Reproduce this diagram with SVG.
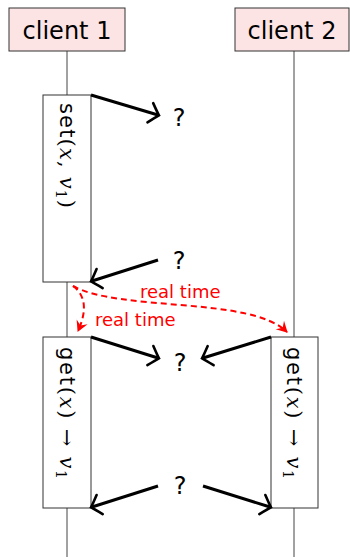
<svg xmlns="http://www.w3.org/2000/svg" width="350" height="557" viewBox="0 0 350 557">
<defs>
<marker id="to" markerUnits="userSpaceOnUse" markerWidth="30" markerHeight="30" viewBox="-15 -15 30 30" refX="0" refY="0" orient="auto">
<path d="M -8 -10 Q -2 -3 1 0 Q -2 3 -8 10" fill="none" stroke="#000" stroke-width="2.6" stroke-linecap="round"/>
</marker>
<marker id="red" markerUnits="userSpaceOnUse" markerWidth="20" markerHeight="20" viewBox="-10 -10 20 20" refX="0" refY="0" orient="auto">
<path d="M -10 -6 L 1 0 L -10 6 L -6 0 Z" fill="#f00"/>
</marker>
</defs>
<style>
.head{fill:#fde4e4;stroke:#333;stroke-width:1}
.life{stroke:#444;stroke-width:1}
.act{fill:#fff;stroke:#333;stroke-width:1}
.t{font-family:"DejaVu Sans",sans-serif;fill:#000}
.m{font-family:"DejaVu Serif","Liberation Serif",serif;font-style:italic}
.r{font-family:"DejaVu Serif","Liberation Serif",serif}
.arr{stroke:#000;stroke-width:3;fill:none;marker-end:url(#to)}
.rt{stroke:#f00;stroke-width:2;fill:none;stroke-dasharray:6,4;marker-end:url(#red)}
.rl{font-family:"DejaVu Sans",sans-serif;font-size:18px;fill:#f00}
.q{font-family:"DejaVu Sans",sans-serif;font-size:24px;fill:#000;text-anchor:middle}
</style>
<g id="lifelines">
<line class="life" x1="67" y1="51" x2="67" y2="557"/>
<line class="life" x1="294" y1="51" x2="294" y2="557"/>
</g>
<g id="client1">
<rect class="head" x="9" y="8" width="116" height="43"/>
<text class="t" x="67" y="39" font-size="24" text-anchor="middle">client 1</text>
</g>
<g id="client2">
<rect class="head" x="235" y="8" width="114" height="43"/>
<text class="t" x="292" y="39" font-size="24" text-anchor="middle">client 2</text>
</g>
<g id="set">
<rect class="act" x="43" y="95" width="48" height="187"/>
<text class="t" font-size="21" transform="translate(60 103) rotate(90)" textLength="105" lengthAdjust="spacing">set<tspan class="r">(</tspan><tspan class="m">x</tspan><tspan class="r">, </tspan><tspan class="m">v</tspan><tspan font-size="14" dy="4" class="r">1</tspan><tspan class="r" dy="-4">)</tspan></text>
</g>
<g id="get1">
<rect class="act" x="43" y="337" width="48" height="171"/>
<text class="t" font-size="21" transform="translate(60 347) rotate(90)" textLength="132" lengthAdjust="spacing">get<tspan class="r">(</tspan><tspan class="m">x</tspan><tspan class="r">) → </tspan><tspan class="m">v</tspan><tspan font-size="14" dy="4" class="r">1</tspan></text>
</g>
<g id="get2">
<rect class="act" x="271" y="337" width="47" height="171"/>
<text class="t" font-size="21" transform="translate(287 347) rotate(90)" textLength="132" lengthAdjust="spacing">get<tspan class="r">(</tspan><tspan class="m">x</tspan><tspan class="r">) → </tspan><tspan class="m">v</tspan><tspan font-size="14" dy="4" class="r">1</tspan></text>
</g>
<g id="q1"><text class="q" x="179" y="126">?</text></g>
<g id="q2"><text class="q" x="179" y="269">?</text></g>
<g id="q3"><text class="q" x="180" y="371">?</text></g>
<g id="q4"><text class="q" x="180" y="494">?</text></g>
<g id="connectors">
<line class="arr" x1="91" y1="95" x2="158" y2="115"/>
<line class="arr" x1="158" y1="260" x2="92" y2="281"/>
<line class="arr" x1="91" y1="337" x2="158" y2="358"/>
<line class="arr" x1="271" y1="337" x2="203" y2="358"/>
<line class="arr" x1="158" y1="486" x2="92" y2="507"/>
<line class="arr" x1="203" y1="486" x2="270" y2="507"/>
<path class="rt" d="M 73 286 Q 92 300 78 331"/>
<path class="rt" d="M 73 286 C 120 312 250 296 287 332"/>
<text class="rl" x="140" y="298">real time</text>
<text class="rl" x="95" y="326">real time</text>
</g>
</svg>
